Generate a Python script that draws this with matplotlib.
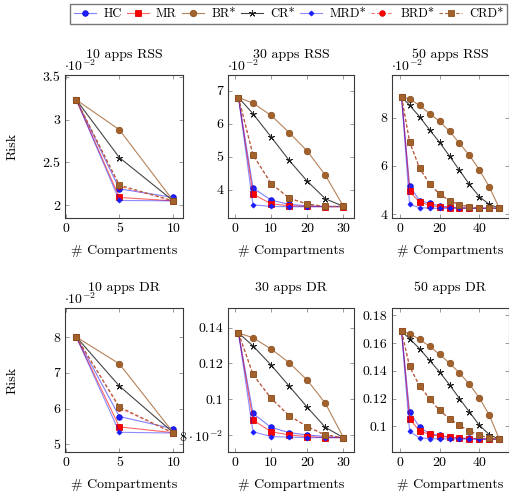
import matplotlib
matplotlib.use('Agg')
import matplotlib.pyplot as plt
from matplotlib.lines import Line2D
from matplotlib.ticker import FixedLocator, FixedFormatter

plt.rcParams['font.family'] = ['cmr10', 'DejaVu Serif']
plt.rcParams['mathtext.fontset'] = 'cm'
plt.rcParams['axes.unicode_minus'] = False
plt.rcParams['axes.formatter.use_mathtext'] = True

# ---------------- data ----------------
series_names = ['HC', 'MR', 'BR*', 'CR*', 'MRD*', 'BRD*', 'CRD*']

x10 = [1, 5, 10]
x30 = [1, 5, 10, 15, 20, 25, 30]
x50 = [1, 5, 10, 15, 20, 25, 30, 35, 40, 45, 50]

# 10 apps RSS (units of 1e-2)
rss10_hc = [3.23, 2.19, 2.09]
rss10_mr = [3.23, 2.09, 2.05]
rss10_br = [3.23, 2.88, 2.05]
rss10_cr = [3.23, 2.555, 2.05]
rss10_mrd = [3.23, 2.055, 2.05]
rss10_brd = [3.23, 2.22, 2.05]
rss10_crd = [3.23, 2.235, 2.05]

# 30 apps RSS (units of 1e-2)
rss30_hc = [6.79, 4.06, 3.69, 3.56, 3.52, 3.50, 3.50]
rss30_mr = [6.79, 3.87, 3.58, 3.52, 3.50, 3.49, 3.49]
rss30_br = [6.79, 6.62, 6.25, 5.73, 5.17, 4.44, 3.50]
rss30_cr = [6.79, 6.30, 5.60, 4.89, 4.26, 3.73, 3.50]
rss30_mrd = [6.79, 3.55, 3.50, 3.49, 3.49, 3.49, 3.49]
rss30_brd = [6.79, 5.06, 4.19, 3.75, 3.57, 3.50, 3.50]
rss30_crd = [6.79, 5.06, 4.19, 3.75, 3.57, 3.50, 3.50]

# 50 apps RSS (units of 1e-2)
rss50_hc = [8.86, 5.18, 4.56, 4.45, 4.34, 4.29, 4.27, 4.26, 4.25, 4.25, 4.24]
rss50_mr = [8.86, 4.94, 4.50, 4.37, 4.30, 4.27, 4.25, 4.24, 4.24, 4.24, 4.24]
rss50_br = [8.86, 8.78, 8.51, 8.17, 7.85, 7.44, 6.94, 6.44, 5.83, 5.12, 4.24]
rss50_cr = [8.86, 8.52, 8.04, 7.50, 6.98, 6.41, 5.82, 5.23, 4.72, 4.40, 4.24]
rss50_mrd = [8.86, 4.40, 4.27, 4.25, 4.24, 4.24, 4.24, 4.24, 4.24, 4.24, 4.24]
rss50_brd = [8.86, 7.00, 5.91, 5.26, 4.83, 4.56, 4.39, 4.30, 4.26, 4.25, 4.24]
rss50_crd = [8.86, 7.00, 5.91, 5.26, 4.83, 4.56, 4.39, 4.30, 4.26, 4.25, 4.24]

# 10 apps DR (units of 1e-2)
dr10_hc = [8.00, 5.78, 5.44]
dr10_mr = [8.00, 5.49, 5.33]
dr10_br = [8.00, 7.25, 5.33]
dr10_cr = [8.00, 6.63, 5.33]
dr10_mrd = [8.00, 5.34, 5.32]
dr10_brd = [8.00, 6.02, 5.32]
dr10_crd = [8.00, 6.05, 5.32]

# 30 apps DR
dr30_hc = [0.1370, 0.0922, 0.0844, 0.0815, 0.0802, 0.0793, 0.0787]
dr30_mr = [0.1370, 0.0885, 0.0820, 0.0802, 0.0793, 0.0787, 0.0787]
dr30_br = [0.1370, 0.1343, 0.1281, 0.1204, 0.1107, 0.0978, 0.0787]
dr30_cr = [0.1370, 0.1298, 0.1191, 0.1074, 0.0956, 0.0844, 0.0787]
dr30_mrd = [0.1370, 0.0820, 0.0793, 0.0790, 0.0787, 0.0787, 0.0787]
dr30_brd = [0.1370, 0.1139, 0.1006, 0.0909, 0.0848, 0.0802, 0.0787]
dr30_crd = [0.1370, 0.1139, 0.1006, 0.0909, 0.0848, 0.0802, 0.0787]

# 50 apps DR
dr50_hc = [0.1685, 0.1103, 0.0995, 0.0947, 0.0935, 0.0923, 0.0915, 0.0913, 0.0912, 0.0910, 0.0906]
dr50_mr = [0.1685, 0.1055, 0.0966, 0.0942, 0.0928, 0.0922, 0.0915, 0.0912, 0.0910, 0.0908, 0.0906]
dr50_br = [0.1685, 0.1668, 0.1627, 0.1577, 0.1519, 0.1456, 0.1384, 0.1303, 0.1204, 0.1079, 0.0906]
dr50_cr = [0.1685, 0.1632, 0.1560, 0.1476, 0.1392, 0.1300, 0.1200, 0.1103, 0.1007, 0.0940, 0.0906]
dr50_mrd = [0.1685, 0.0964, 0.0916, 0.0912, 0.0910, 0.0909, 0.0908, 0.0907, 0.0906, 0.0906, 0.0906]
dr50_brd = [0.1685, 0.1432, 0.1291, 0.1200, 0.1115, 0.1055, 0.1007, 0.0966, 0.0935, 0.0916, 0.0906]
dr50_crd = [0.1685, 0.1432, 0.1291, 0.1200, 0.1115, 0.1055, 0.1007, 0.0966, 0.0935, 0.0916, 0.0906]

titles = ['10 apps RSS', '30 apps RSS', '50 apps RSS',
          '10 apps DR', '30 apps DR', '50 apps DR']

xticks10 = [0, 5, 10]
xticks30 = [0, 10, 20, 30]
xticks50 = [0, 20, 40]

yticks_rss10 = [2, 2.5, 3, 3.5]
yticks_rss30 = [4, 5, 6, 7]
yticks_rss50 = [4, 6, 8]
yticks_dr10 = [5, 6, 7, 8]
yticks_dr30 = [0.08, 0.1, 0.12, 0.14]
ylabels_dr30 = [r'$8\cdot10^{-2}$', '0.1', '0.12', '0.14']
yticks_dr50 = [0.1, 0.12, 0.14, 0.16, 0.18]

# ---------------- styles ----------------
blue_line = (0.0, 0.0, 1.0, 0.5)
red_line = (1.0, 0.0, 0.0, 0.6)
brown = '#a3622c'
brown_edge = '#8c5222'
styles = {
    'HC':   dict(color=blue_line, ls='-', marker='o', ms=4.0, mfc='#1f1fff', mec='#1010d8', mew=0.6),
    'MR':   dict(color=red_line, ls='-', marker='s', ms=4.0, mfc='#ff0000', mec='#e00000', mew=0.6),
    'BR*':  dict(color='#b58158', ls='-', marker='o', ms=4.6, mfc=brown, mec=brown_edge, mew=0.6),
    'CR*':  dict(color='#454545', ls='-', marker=(5, 2, 0), ms=5.0, mec='#202020', mew=0.6),
    'MRD*': dict(color=(0.0, 0.0, 1.0, 0.45), ls='-', marker='D', ms=2.6, mfc='#1a1aff', mec='#1a1aff', mew=0.5),
    'BRD*': dict(color=(1.0, 0.2, 0.2, 0.7), ls=(0, (3, 2)), marker='o', ms=4.0, mfc='#ff0000', mec='#e00000', mew=0.6),
    'CRD*': dict(color='#a86040', ls=(0, (3, 2)), marker='s', ms=5.0, mfc=brown, mec=brown_edge, mew=0.6),
}
LW = 0.8

W, H = 510, 492
fig = plt.figure(figsize=(W / 100, H / 100), dpi=100)


def ax_px(l, t, r, b):
    return fig.add_axes([l / W, 1 - b / H, (r - l) / W, (b - t) / H])


panels = [
    dict(box=(65, 75, 183, 218), x=x10, data=[rss10_hc, rss10_mr, rss10_br, rss10_cr, rss10_mrd, rss10_brd, rss10_crd],
         scale=1e-2, xlim=(-0.05, 10.9), ylim=(1.85, 3.52), xt=xticks10, yt=yticks_rss10, yl=None, mult=True),
    dict(box=(228, 75, 354, 218), x=x30, data=[rss30_hc, rss30_mr, rss30_br, rss30_cr, rss30_mrd, rss30_brd, rss30_crd],
         scale=1e-2, xlim=(-1.9, 32.9), ylim=(3.15, 7.47), xt=xticks30, yt=yticks_rss30, yl=None, mult=True),
    dict(box=(392, 75, 509, 218), x=x50, data=[rss50_hc, rss50_mr, rss50_br, rss50_cr, rss50_mrd, rss50_brd, rss50_crd],
         scale=1e-2, xlim=(-3.8, 54.8), ylim=(3.84, 9.77), xt=xticks50, yt=yticks_rss50, yl=None, mult=True),
    dict(box=(65, 308, 183, 452), x=x10, data=[dr10_hc, dr10_mr, dr10_br, dr10_cr, dr10_mrd, dr10_brd, dr10_crd],
         scale=1e-2, xlim=(-0.05, 10.9), ylim=(4.79, 8.81), xt=xticks10, yt=yticks_dr10, yl=None, mult=True),
    dict(box=(228, 308, 354, 452), x=x30, data=[dr30_hc, dr30_mr, dr30_br, dr30_cr, dr30_mrd, dr30_brd, dr30_crd],
         scale=1.0, xlim=(-1.9, 32.9), ylim=(0.0707, 0.1509), xt=xticks30, yt=yticks_dr30, yl=ylabels_dr30, mult=False),
    dict(box=(392, 308, 509, 452), x=x50, data=[dr50_hc, dr50_mr, dr50_br, dr50_cr, dr50_mrd, dr50_brd, dr50_crd],
         scale=1.0, xlim=(-3.8, 54.8), ylim=(0.0815, 0.1853), xt=xticks50, yt=yticks_dr50, yl=None, mult=False),
]

FS = 10
LFS = 9


def fmt_num(v):
    s = ('%.4f' % v).rstrip('0').rstrip('.')
    return s


for i, p in enumerate(panels):
    l, t, r, b = p['box']
    ax = ax_px(l, t, r, b)
    for name, ys in zip(series_names, p['data']):
        st = dict(styles[name])
        vals = [v * p['scale'] for v in ys]
        ax.plot(p['x'], vals, lw=LW, clip_on=True, **st)
    ax.set_xlim(*p['xlim'])
    ax.set_ylim(p['ylim'][0] * p['scale'], p['ylim'][1] * p['scale'])
    ax.xaxis.set_major_locator(FixedLocator(p['xt']))
    ax.xaxis.set_major_formatter(FixedFormatter([fmt_num(v) for v in p['xt']]))
    yt_pos = [v * p['scale'] for v in p['yt']]
    ax.yaxis.set_major_locator(FixedLocator(yt_pos))
    if p['yl'] is not None:
        ax.yaxis.set_major_formatter(FixedFormatter(p['yl']))
    else:
        ax.yaxis.set_major_formatter(FixedFormatter([fmt_num(v) for v in p['yt']]))
    ax.tick_params(direction='in', length=3.2, width=0.6, color='#8a8a8a',
                   top=True, right=True, labelsize=FS, pad=3.5)
    for sp in ax.spines.values():
        sp.set_color('#3a3a3a')
        sp.set_linewidth(0.8)
    cx = (l + r) / 2
    fig.text(cx / W, 1 - (t - 20) / H, titles[i], ha='center', va='center', fontsize=FS)
    if p['mult']:
        fig.text((l - 1) / W, 1 - (t - 9) / H, r'$\cdot10^{-2}$', ha='left', va='center', fontsize=FS)
    fig.text(cx / W, 1 - (b + 33) / H, '# Compartments', ha='center', va='center', fontsize=FS)
    if l < 100:
        fig.text(13 / W, 1 - ((t + b) / 2) / H, 'Risk', ha='center', va='center',
                 rotation=90, fontsize=FS)

# legend
handles = [Line2D([], [], lw=LW, **styles[n]) for n in series_names]
leg = fig.legend(handles, series_names, loc='upper right', bbox_to_anchor=(507 / W, 1 - 4 / H),
                 ncol=7, fontsize=LFS, frameon=True, fancybox=False, handlelength=1.8,
                 handletextpad=0.55, columnspacing=0.4, borderpad=0.3, borderaxespad=0)
leg.get_frame().set_edgecolor('#555555')
leg.get_frame().set_linewidth(1.0)

fig.savefig('out.png', dpi=100)
